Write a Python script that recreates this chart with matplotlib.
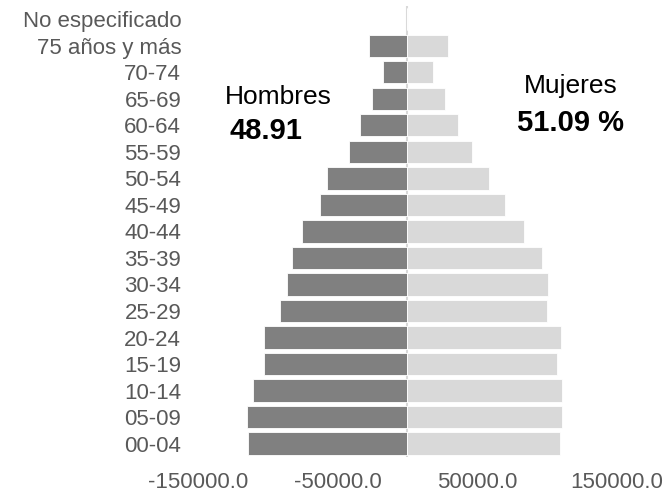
import matplotlib
matplotlib.use('Agg')
import matplotlib.pyplot as plt
import numpy as np

plt.rcParams['font.family'] = ['Liberation Sans', 'DejaVu Sans']

# Grupos de edad (de abajo hacia arriba)
grupos = ['00-04', '05-09', '10-14', '15-19', '20-24', '25-29', '30-34',
          '35-39', '40-44', '45-49', '50-54', '55-59', '60-64', '65-69',
          '70-74', '75 años y más', 'No especificado']

hombres = [114000, 115000, 110700, 102800, 102800, 91400, 86400, 82800,
           75700, 62800, 57800, 41400, 33600, 25000, 17100, 27100, 0]
mujeres = [109200, 110700, 110700, 107100, 110000, 100000, 100700, 96400,
           83500, 70000, 58500, 46400, 36400, 27100, 18600, 29300, 0]

pct_hombres = '48.91'
pct_mujeres = '51.09 %'

fig = plt.figure(figsize=(6.66, 4.95), dpi=100)
ax = fig.add_axes([0.297, 0.077, 0.629, 0.911])

y = np.arange(len(grupos))
ax.barh(y, [-h for h in hombres], height=0.84, color='#808080',
        edgecolor='white', linewidth=0.6)
ax.barh(y, mujeres, height=0.84, color='#d9d9d9',
        edgecolor='white', linewidth=0.6)
ax.axvline(0, color='#d9d9d9', linewidth=1.5, zorder=0)

ax.set_xlim(-150000, 150000)
ax.set_ylim(-0.5, len(grupos) - 0.5)
ax.set_xticks([-150000, -50000, 50000, 150000])
ax.set_xticklabels(['-150000.0', '-50000.0', '50000.0', '150000.0'])
ax.set_yticks(y)
ax.set_yticklabels(grupos)

for s in ax.spines.values():
    s.set_visible(False)
ax.tick_params(axis='both', length=0, labelsize=16, colors='#595959')
ax.tick_params(axis='x', pad=11)
ax.tick_params(axis='y', pad=12)

ax.text(-92000, 13.05, 'Hombres', fontsize=19, ha='center', va='center', color='black')
ax.text(-101000, 11.8, pct_hombres, fontsize=21, fontweight='bold',
        ha='center', va='center', color='black')
ax.text(117000, 13.5, 'Mujeres', fontsize=19, ha='center', va='center', color='black')
ax.text(117000, 12.1, pct_mujeres, fontsize=21, fontweight='bold',
        ha='center', va='center', color='black')

fig.savefig('out.png', dpi=100)
